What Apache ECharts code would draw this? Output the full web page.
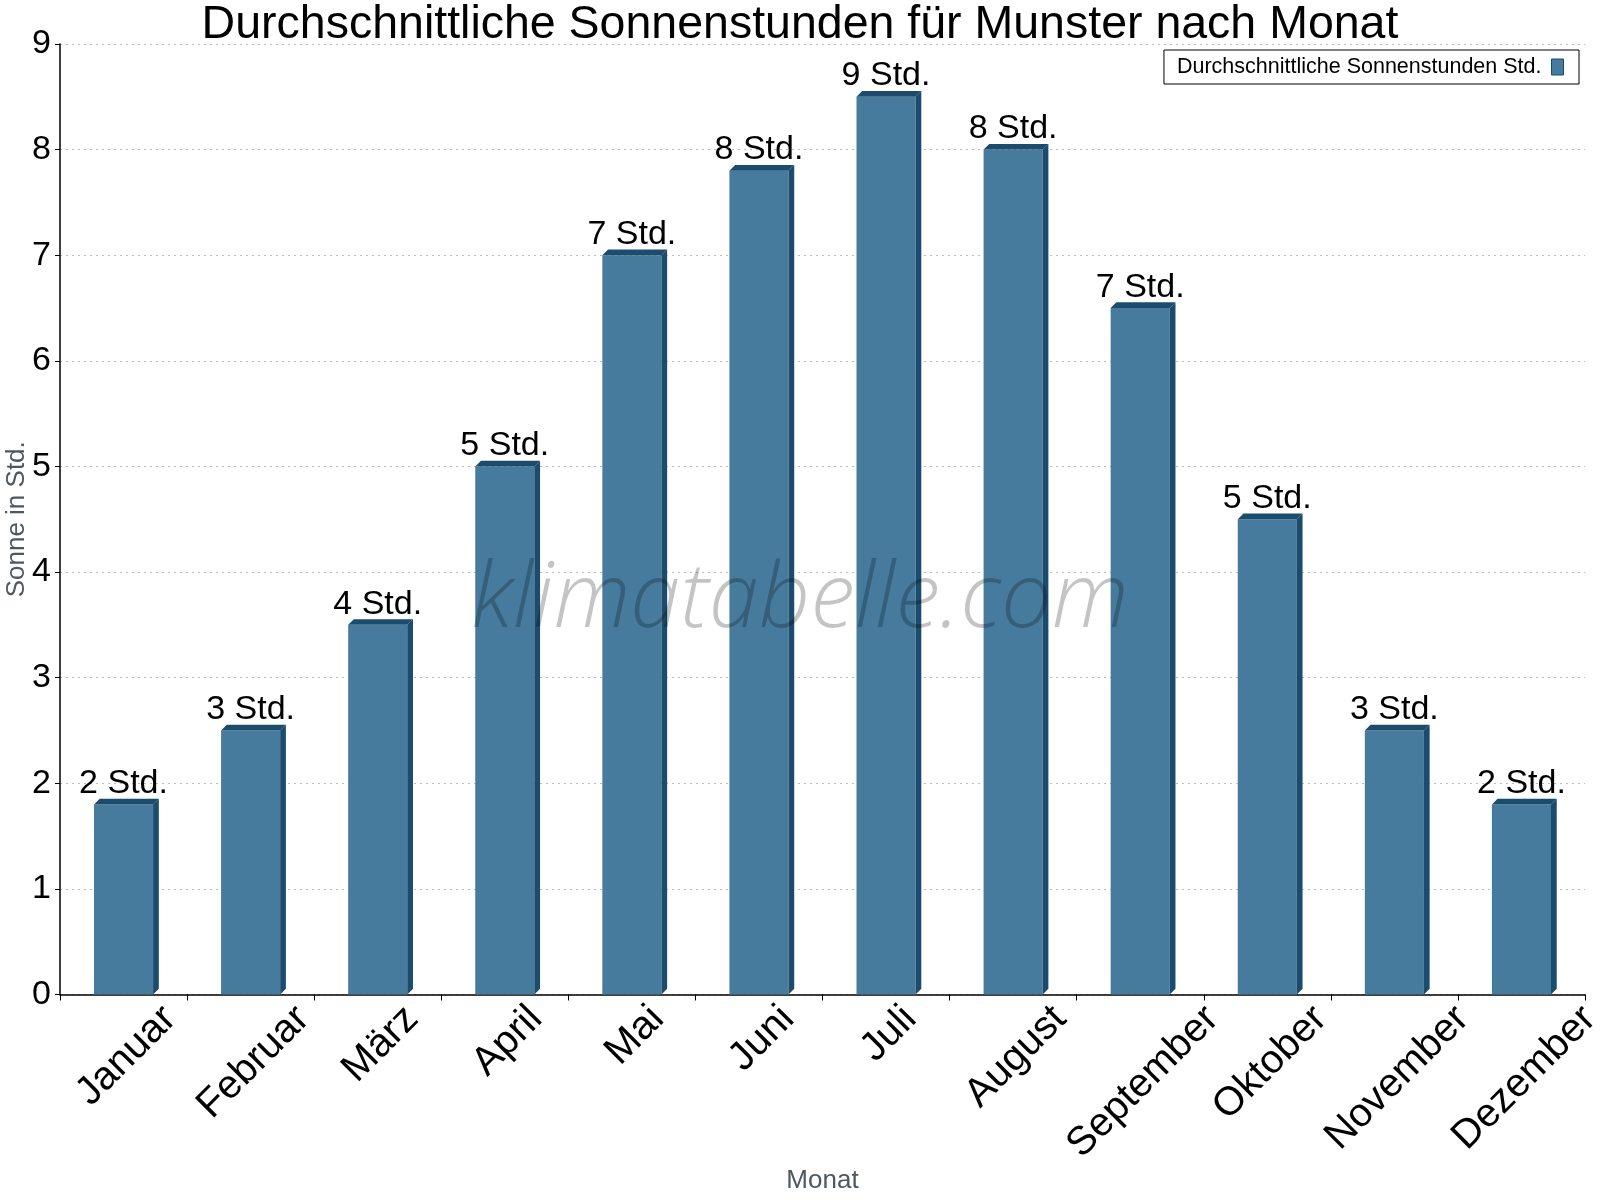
<!DOCTYPE html>
<html><head><meta charset="utf-8">
<script src="https://cdn.jsdelivr.net/npm/echarts@6/dist/echarts.min.js"></script>
<style>html,body{margin:0;padding:0;background:#fff}#c{width:1600px;height:1200px}</style>
</head><body><div id="c"></div>
<script>
// ---- data ----
const months = ['Januar','Februar','März','April','Mai','Juni','Juli','August','September','Oktober','November','Dezember'];
const sunHours = [1.8, 2.5, 3.5, 5.0, 7.0, 7.8, 8.5, 8.0, 6.5, 4.5, 2.5, 1.8];
const barLabels = ['2 Std.','3 Std.','4 Std.','5 Std.','7 Std.','8 Std.','9 Std.','8 Std.','7 Std.','5 Std.','3 Std.','2 Std.'];
const seriesName = 'Durchschnittliche Sonnenstunden Std.';
const titleText = 'Durchschnittliche Sonnenstunden für Munster nach Monat';
const yAxisName = 'Sonne in Std.';
const xAxisName = 'Monat';
const watermark = 'klimatabelle.com';

// ---- style ----
const FONT = '"Liberation Sans", Arial, sans-serif';
const FRONT = '#467b9e';
const DARK = '#1b4c6e';
const NAME_COLOR = '#4f5761';
const GRID = {left: 60, right: 15, top: 44, bottom: 205.5};
const H = 1200;
const axisY = H - GRID.bottom;

// rotated category labels: centre each label box like the reference
const LABEL_FS = 40;
const ctx = document.createElement('canvas').getContext('2d');
ctx.font = LABEL_FS + 'px ' + FONT;
const rich = {};
const LABEL_MARGIN = 8;
months.forEach((m, i) => {
  const L = ctx.measureText(m).width;
  const dx = 3;
  const cy = axisY + 18.3 + 0.3535 * L;
  const dy = cy - (axisY + LABEL_MARGIN);
  const a = (dx - dy) / Math.SQRT2, b = (dx + dy) / Math.SQRT2;
  rich['c' + i] = {
    fontSize: LABEL_FS, fontFamily: FONT, color: '#000',
    padding: [b > 0 ? 2 * b : 0, a < 0 ? -2 * a : 0, b < 0 ? -2 * b : 0, a > 0 ? 2 * a : 0]
  };
});

const chart = echarts.init(document.getElementById('c'), null, {renderer: 'canvas'});
chart.setOption({
  backgroundColor: '#fff',
  animation: false,
  title: {
    text: titleText, left: 'center', top: 2, padding: 0,
    textStyle: {fontFamily: FONT, fontSize: 46.5, fontWeight: 'normal', color: '#000'}
  },
  legend: {
    right: 21, top: 50, align: 'right', orient: 'horizontal',
    padding: [6, 15, 6, 13],
    borderColor: '#000', borderWidth: 1, backgroundColor: '#fff', borderRadius: 0,
    itemWidth: 12, itemHeight: 16,
    textStyle: {fontFamily: FONT, fontSize: 21.5, color: '#000', padding: [0, 5, 0, 0]},
    data: [{name: seriesName, icon: 'rect', itemStyle: {color: FRONT, borderColor: DARK, borderWidth: 1}}]
  },
  grid: Object.assign({outerBoundsMode: 'none', containLabel: false}, GRID),
  xAxis: {
    type: 'category', data: months, boundaryGap: true,
    name: xAxisName, nameLocation: 'middle', nameGap: 173, nameMoveOverlap: false,
    nameTextStyle: {fontFamily: FONT, fontSize: 26, color: NAME_COLOR},
    axisLine: {show: true, lineStyle: {color: '#000', width: 1.5}},
    axisTick: {show: true, alignWithLabel: false, length: 6, lineStyle: {color: '#000', width: 1}},
    axisLabel: {
      interval: 0, rotate: 45, align: 'center', verticalAlign: 'middle', margin: LABEL_MARGIN,
      fontFamily: FONT, fontSize: LABEL_FS, color: '#000',
      formatter: (v, i) => '{c' + i + '|' + v + '}', rich: rich
    },
    splitLine: {show: false}
  },
  yAxis: {
    type: 'value', min: 0, max: 9, interval: 1,
    name: yAxisName, nameLocation: 'middle', nameGap: 30, nameMoveOverlap: false,
    nameTextStyle: {fontFamily: FONT, fontSize: 26, color: NAME_COLOR},
    axisLine: {show: true, lineStyle: {color: '#000', width: 1.5}},
    axisTick: {show: true, length: 5, lineStyle: {color: '#000', width: 1}},
    axisLabel: {fontFamily: FONT, fontSize: 34, color: '#000', margin: 9},
    splitLine: {show: true, lineStyle: {color: '#bdbdbd', width: 1, type: [2, 4]}}
  },
  graphic: [{
    type: 'text', x: 800, y: 601, z: 100, silent: true,
    style: {
      text: watermark, align: 'center', verticalAlign: 'middle',
      font: 'italic 300 90px "Open Sans", Lato, sans-serif',
      fill: 'rgba(0,0,0,0.23)'
    }
  }],
  series: [{
    type: 'custom', name: seriesName,
    itemStyle: {color: FRONT},
    encode: {x: 0, y: 1},
    data: sunHours.map((v, i) => [i, v]),
    renderItem: function (params, api) {
      const i = params.dataIndex;
      const top = api.coord([api.value(0), api.value(1)]);
      const base = api.coord([api.value(0), 0]);
      const band = api.size([1, 0])[0];
      const w = band * 0.465, d = band * 0.045;
      const x0 = top[0] - w / 2, x1 = top[0] + w / 2, yt = top[1], yb = base[1];
      return {
        type: 'group', children: [
          {type: 'rect', shape: {x: x0, y: yt, width: w, height: yb - yt}, style: {fill: FRONT}},
          {type: 'polygon', shape: {points: [[x0, yt], [x0 + d, yt - d], [x1 + d, yt - d], [x1, yt]]}, style: {fill: DARK}},
          {type: 'polygon', shape: {points: [[x1, yt], [x1 + d, yt - d], [x1 + d, yb - d], [x1, yb]]}, style: {fill: DARK}},
          {type: 'text', x: top[0], y: yt - d + 2, style: {
            text: barLabels[i], fill: '#000', fontSize: 34, fontFamily: FONT,
            align: 'center', verticalAlign: 'bottom'}}
        ]
      };
    }
  }]
});
</script>
</body></html>
